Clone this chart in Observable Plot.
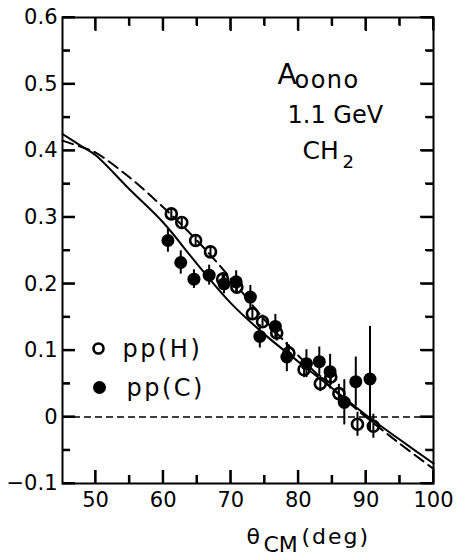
<!DOCTYPE html>
<html><head><meta charset="utf-8">
<script src="https://cdn.jsdelivr.net/npm/d3@7"></script>
<script src="https://cdn.jsdelivr.net/npm/@observablehq/plot@0.6"></script>
<style>body{margin:0;background:#fff} svg{display:block}</style>
</head><body><div id="chart"></div>
<script>
// pp(H): open circles
const hAngle = [61.2, 62.75, 64.8, 67.0, 68.8, 70.9, 73.2, 74.7, 76.8, 78.6, 80.85, 83.25, 84.8, 86.0, 88.75, 91.1];
const hValue = [0.305, 0.292, 0.265, 0.248, 0.207, 0.195, 0.155, 0.143, 0.126, 0.096, 0.071, 0.050, 0.060, 0.035, -0.011, -0.014];
const hError = [0.008, 0.008, 0.008, 0.008, 0.01, 0.01, 0.01, 0.01, 0.012, 0.012, 0.012, 0.012, 0.012, 0.014, 0.018, 0.018];
// pp(C): filled circles
const cAngle = [60.7, 62.6, 64.55, 66.8, 69.0, 70.8, 72.9, 74.3, 76.6, 78.3, 81.2, 83.1, 84.7, 86.8, 88.5, 90.6];
const cValue = [0.265, 0.232, 0.207, 0.213, 0.200, 0.203, 0.180, 0.121, 0.136, 0.090, 0.080, 0.083, 0.068, 0.022, 0.053, 0.057];
const cError = [0.0175, 0.0175, 0.014, 0.015, 0.015, 0.0165, 0.0175, 0.0175, 0.018, 0.022, 0.021, 0.022, 0.026, 0.034, 0.037, 0.079];
// theory curves
const solidAngle = [45.1, 48, 50, 55, 60, 65, 70, 75, 80, 85, 90, 95, 100];
const solidValue = [0.425, 0.406, 0.393, 0.342, 0.292, 0.230, 0.171, 0.124, 0.083, 0.043, 0.003, -0.034, -0.070];
const dashAngle = [45.1, 48, 50, 55, 60, 65, 70, 75, 80, 85, 90, 95, 100];
const dashValue = [0.415, 0.405, 0.397, 0.360, 0.315, 0.265, 0.208, 0.146, 0.092, 0.043, 0.000, -0.040, -0.078];
// ticks
const xMajor = [50, 60, 70, 80, 90, 100];
const xMinor = [55, 65, 75, 85, 95];
const yMajor = [-0.1, 0, 0.1, 0.2, 0.3, 0.4, 0.5, 0.6];
const yMinor = [-0.05, 0.05, 0.15, 0.25, 0.35, 0.45, 0.55];
// texts
const legendLabels = ["pp(H)", "pp(C)"];
const annoTitle = ["A", "oono"];
const annoEnergy = ["1.1 GeV"];
const annoTarget = ["CH", "2"];
const xLabel = ["θ", "CM", "(deg)"];

const H = hAngle.map((a, i) => ({a, v: hValue[i], e: hError[i]}));
const C = cAngle.map((a, i) => ({a, v: cValue[i], e: cError[i]}));
const S = solidAngle.map((a, i) => ({a, v: solidValue[i]}));
const D = dashAngle.map((a, i) => ({a, v: dashValue[i]}));

const fmtY = d => d === 0 ? "0" : d < 0 ? "\u2212" + Math.abs(d) : String(d);
const ff = "DejaVu Sans";
const L = 62, R = 26, T = 17, B = 483, W = 459, HT = 554;
const xDom = [45.1, 100], yDom = [-0.1, 0.6];
const MAJ = 13, MIN = 8; // inward tick lengths in px

const plot = Plot.plot({
  width: W, height: HT,
  marginLeft: L, marginRight: R, marginTop: T, marginBottom: HT - B,
  style: {fontFamily: ff, fontSize: "21px"},
  x: {domain: xDom},
  y: {domain: yDom},
  marks: [
    Plot.ruleY([0], {stroke: "black", strokeWidth: 1.5, strokeDasharray: "7,4"}),
    // tick labels
    Plot.axisX({anchor: "bottom", ticks: xMajor, tickSize: 0, tickPadding: 9, label: null, fontSize: 21}),
    Plot.axisY({anchor: "left", ticks: yMajor, tickSize: 0, tickPadding: 5, tickFormat: fmtY, label: null, fontSize: 21}),
    Plot.frame({stroke: "black", strokeWidth: 2}),
    // error bars
    Plot.ruleX(C, {x: "a", y1: d => d.v - d.e, y2: d => d.v + d.e, stroke: "black", strokeWidth: 2}),
    Plot.ruleX(H, {x: "a", y1: d => d.v - d.e, y2: d => d.v + d.e, stroke: "black", strokeWidth: 2}),
    Plot.dot(H, {x: "a", y: "v", r: 5.5, stroke: "black", strokeWidth: 2.6, fill: "none"}),
    Plot.dot(C, {x: "a", y: "v", r: 6.5, fill: "black", stroke: "none"}),
    // curves
    Plot.line(S, {x: "a", y: "v", curve: "catmull-rom", stroke: "black", strokeWidth: 2}),
    Plot.line(D, {x: "a", y: "v", curve: "catmull-rom", stroke: "black", strokeWidth: 2, strokeDasharray: "11,6"}),
    // legend
    Plot.dot([legendLabels[0]], {frameAnchor: "top-left", dx: 98 - L, dy: 348 - T, r: 5, stroke: "black", strokeWidth: 2.6, fill: "none"}),
    Plot.dot([legendLabels[1]], {frameAnchor: "top-left", dx: 99 - L, dy: 387 - T, r: 6.5, fill: "black"}),
    Plot.text([legendLabels[0]], {frameAnchor: "top-left", dx: 122 - L, dy: 356 - T, text: d => d, textAnchor: "start", lineAnchor: "bottom", fontSize: 24, fill: "black"}),
    Plot.text([legendLabels[1]], {frameAnchor: "top-left", dx: 126 - L, dy: 395 - T, text: d => d, textAnchor: "start", lineAnchor: "bottom", fontSize: 24, fill: "black"}),
    // annotation
    Plot.text([annoTitle[0]], {frameAnchor: "top-left", dx: 277 - L, dy: 83 - T, text: d => d, textAnchor: "start", lineAnchor: "bottom", fontSize: 28, fill: "black"}),
    Plot.text([annoTitle[1]], {frameAnchor: "top-left", dx: 294 - L, dy: 87 - T, text: d => d, textAnchor: "start", lineAnchor: "bottom", fontSize: 24, fill: "black"}),
    Plot.text(annoEnergy, {frameAnchor: "top-left", dx: 287 - L, dy: 122 - T, text: d => d, textAnchor: "start", lineAnchor: "bottom", fontSize: 24, fill: "black"}),
    Plot.text([annoTarget[0]], {frameAnchor: "top-left", dx: 302 - L, dy: 158 - T, text: d => d, textAnchor: "start", lineAnchor: "bottom", fontSize: 25, fill: "black"}),
    Plot.text([annoTarget[1]], {frameAnchor: "top-left", dx: 342 - L, dy: 167 - T, text: d => d, textAnchor: "start", lineAnchor: "bottom", fontSize: 18, fill: "black"}),
    // x label
    Plot.text([xLabel[0]], {frameAnchor: "bottom-left", dx: 246 - L, dy: 543 - B, text: d => d, textAnchor: "start", lineAnchor: "bottom", fontSize: 22, fill: "black"}),
    Plot.text([xLabel[1]], {frameAnchor: "bottom-left", dx: 263 - L, dy: 551 - B, text: d => d, textAnchor: "start", lineAnchor: "bottom", fontSize: 22, fill: "black"}),
    Plot.text([xLabel[2]], {frameAnchor: "bottom-left", dx: 301 - L, dy: 543 - B, text: d => d, textAnchor: "start", lineAnchor: "bottom", fontSize: 22, fill: "black"}),
    // inward ticks (top and bottom) via Plot's own axis tick mark, inverted
    Plot.axisX({anchor: "bottom", ticks: xMajor, tickSize: -MAJ, tickFormat: () => "", label: null, stroke: "black", strokeWidth: 2}),
    Plot.axisX({anchor: "bottom", ticks: xMinor, tickSize: -MIN, tickFormat: () => "", label: null, stroke: "black", strokeWidth: 2}),
    Plot.axisX({anchor: "top", ticks: xMajor, tickSize: -MAJ, tickFormat: () => "", label: null, stroke: "black", strokeWidth: 2}),
    Plot.axisX({anchor: "top", ticks: xMinor, tickSize: -MIN, tickFormat: () => "", label: null, stroke: "black", strokeWidth: 2}),
    Plot.axisY({anchor: "left", ticks: yMajor, tickSize: -MAJ, tickFormat: () => "", label: null, stroke: "black", strokeWidth: 2}),
    Plot.axisY({anchor: "left", ticks: yMinor, tickSize: -MIN, tickFormat: () => "", label: null, stroke: "black", strokeWidth: 2}),
    Plot.axisY({anchor: "right", ticks: yMajor, tickSize: -MAJ, tickFormat: () => "", label: null, stroke: "black", strokeWidth: 2}),
    Plot.axisY({anchor: "right", ticks: yMinor, tickSize: -MIN, tickFormat: () => "", label: null, stroke: "black", strokeWidth: 2})
  ]
});
// fallback: inward ticks placed with Plot's own x and y scales, appended on top
const sx = plot.scale("x"), sy = plot.scale("y");
const ns = "http://www.w3.org/2000/svg";
const g = document.createElementNS(ns, "g");
g.setAttribute("stroke", "black");
g.setAttribute("stroke-width", "2");
const addLine = (x1, y1, x2, y2) => {
  const l = document.createElementNS(ns, "line");
  l.setAttribute("x1", x1); l.setAttribute("y1", y1);
  l.setAttribute("x2", x2); l.setAttribute("y2", y2);
  g.appendChild(l);
};
const xb = sy.apply(yDom[0]), xt = sy.apply(yDom[1]);
const yl = sx.apply(xDom[0]), yr = sx.apply(xDom[1]);
xMajor.forEach(v => { const p = sx.apply(v); addLine(p, xb, p, xb - MAJ); addLine(p, xt, p, xt + MAJ); });
xMinor.forEach(v => { const p = sx.apply(v); addLine(p, xb, p, xb - MIN); addLine(p, xt, p, xt + MIN); });
yMajor.forEach(v => { const p = sy.apply(v); addLine(yl, p, yl + MAJ, p); addLine(yr, p, yr - MAJ, p); });
yMinor.forEach(v => { const p = sy.apply(v); addLine(yl, p, yl + MIN, p); addLine(yr, p, yr - MIN, p); });
plot.appendChild(g);
// widen the legend and label lettering like the reference typeface
plot.querySelectorAll("text").forEach(t => {
  const s = t.textContent;
  if (s === "pp(H)" || s === "pp(C)") t.setAttribute("letter-spacing", "2.5");
  if (s === "oono") t.setAttribute("letter-spacing", "1.5");
  if (s === "(deg)") t.setAttribute("letter-spacing", "2");
});
document.getElementById("chart").appendChild(plot);
</script>
</body></html>
